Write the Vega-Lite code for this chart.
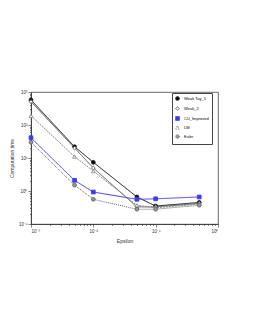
{
  "$schema": "https://vega.github.io/schema/vega-lite/v6.json",
  "width": 187,
  "height": 132,
  "autosize": "none",
  "padding": {"left": 31, "top": 92, "right": 37, "bottom": 106},
  "background": "white",
  "config": {
    "view": {"stroke": "#444", "strokeWidth": 0.8},
    "font": "Liberation Sans",
    "axis": {"grid": false, "domainColor": "#333", "tickColor": "#333", "labelColor": "#333", "titleColor": "#333", "labelFontSize": 4.5, "titleFontSize": 5, "titleFontWeight": "normal", "labelOverlap": false, "domainWidth": 0.8, "tickWidth": 0.6}
  },
  "data": {"values": [
    {"s": "Weak Tay_1", "eps": 0.001, "t": 575},
    {"s": "Weak Tay_1", "eps": 0.005, "t": 22},
    {"s": "Weak Tay_1", "eps": 0.01, "t": 7.4},
    {"s": "Weak Tay_1", "eps": 0.05, "t": 0.66},
    {"s": "Weak Tay_1", "eps": 0.1, "t": 0.35},
    {"s": "Weak Tay_1", "eps": 0.5, "t": 0.45},
    {"s": "Weak_2", "eps": 0.001, "t": 510},
    {"s": "Weak_2", "eps": 0.005, "t": 20},
    {"s": "Weak_2", "eps": 0.01, "t": 5},
    {"s": "Weak_2", "eps": 0.05, "t": 0.33},
    {"s": "Weak_2", "eps": 0.1, "t": 0.33},
    {"s": "Weak_2", "eps": 0.5, "t": 0.42},
    {"s": "CU_Improved", "eps": 0.001, "t": 41},
    {"s": "CU_Improved", "eps": 0.005, "t": 2.1},
    {"s": "CU_Improved", "eps": 0.01, "t": 0.93},
    {"s": "CU_Improved", "eps": 0.05, "t": 0.56},
    {"s": "CU_Improved", "eps": 0.1, "t": 0.58},
    {"s": "CU_Improved", "eps": 0.5, "t": 0.66},
    {"s": "LW", "eps": 0.001, "t": 190},
    {"s": "LW", "eps": 0.005, "t": 11},
    {"s": "LW", "eps": 0.01, "t": 4},
    {"s": "LW", "eps": 0.05, "t": 0.37},
    {"s": "LW", "eps": 0.1, "t": 0.31},
    {"s": "LW", "eps": 0.5, "t": 0.4},
    {"s": "Euler", "eps": 0.001, "t": 30},
    {"s": "Euler", "eps": 0.005, "t": 1.5},
    {"s": "Euler", "eps": 0.01, "t": 0.56},
    {"s": "Euler", "eps": 0.05, "t": 0.28},
    {"s": "Euler", "eps": 0.1, "t": 0.28},
    {"s": "Euler", "eps": 0.5, "t": 0.37}
  ]},
  "encoding": {
    "x": {"field": "eps", "type": "quantitative", "title": "Epsilon",
      "scale": {"type": "log", "domain": [0.001, 1], "nice": false},
      "axis": {"values": [0.001,0.002,0.003,0.004,0.005,0.006,0.007,0.008,0.009,0.01,0.02,0.03,0.04,0.05,0.06,0.07,0.08,0.09,0.1,0.2,0.3,0.4,0.5,0.6,0.7,0.8,0.9,1],
        "labelExpr": "abs(log(datum.value)/LN10 - round(log(datum.value)/LN10)) < 0.01 ? '10' + ({'-3':'⁻³','-2':'⁻²','-1':'⁻¹','0':'⁰'})[''+round(log(datum.value)/LN10)] : ''",
        "tickSize": {"condition": {"test": "abs(log(datum.value)/LN10 - round(log(datum.value)/LN10)) < 0.01", "value": 3}, "value": 1.5},
        "titlePadding": 6, "labelPadding": 1}},
    "y": {"field": "t", "type": "quantitative", "title": "Computation time",
      "scale": {"type": "log", "domain": [0.1, 1000], "nice": false},
      "axis": {"values": [0.1,0.2,0.3,0.4,0.5,0.6,0.7,0.8,0.9,1,2,3,4,5,6,7,8,9,10,20,30,40,50,60,70,80,90,100,200,300,400,500,600,700,800,900,1000],
        "labelExpr": "abs(log(datum.value)/LN10 - round(log(datum.value)/LN10)) < 0.01 ? '10' + ({'-1':'⁻¹','0':'⁰','1':'¹','2':'²','3':'³'})[''+round(log(datum.value)/LN10)] : ''",
        "tickSize": {"condition": {"test": "abs(log(datum.value)/LN10 - round(log(datum.value)/LN10)) < 0.01", "value": 3}, "value": 1.5},
        "titlePadding": 4, "labelPadding": 1}},
    "color": {"field": "s", "type": "nominal", "sort": ["Weak Tay_1", "Weak_2", "CU_Improved", "LW", "Euler"],
      "scale": {"domain": ["Weak Tay_1", "Weak_2", "CU_Improved", "LW", "Euler"], "range": ["#111111", "#555555", "#3b3bf5", "#8a8a8a", "#666666"]},
      "legend": {"title": null, "orient": "none", "legendX": 141, "legendY": 1, "labelFontSize": 4, "symbolSize": 14, "rowPadding": 1, "padding": 3, "strokeColor": "#444", "fillColor": "white", "symbolStrokeWidth": 0.9, "labelLimit": 60}}
  },
  "layer": [
    {"mark": {"type": "line", "strokeWidth": 1},
     "encoding": {"strokeDash": {"field": "s", "type": "nominal", "legend": null,
       "scale": {"domain": ["Weak Tay_1", "Weak_2", "CU_Improved", "LW", "Euler"], "range": [[1,0],[1,0],[1,0],[2,1],[1,1]]}}}},
    {"mark": {"type": "point", "size": 14, "strokeWidth": 0.9, "opacity": 1},
     "encoding": {
       "shape": {"field": "s", "type": "nominal",
         "scale": {"domain": ["Weak Tay_1", "Weak_2", "CU_Improved", "LW", "Euler"], "range": ["circle", "diamond", "square", "triangle-up", "circle"]}},
       "fill": {"field": "s", "type": "nominal", "legend": null,
         "scale": {"domain": ["Weak Tay_1", "Weak_2", "CU_Improved", "LW", "Euler"], "range": ["#111111", "white", "#3b3bf5", "white", "#999999"]}}
     }}
  ]
}
